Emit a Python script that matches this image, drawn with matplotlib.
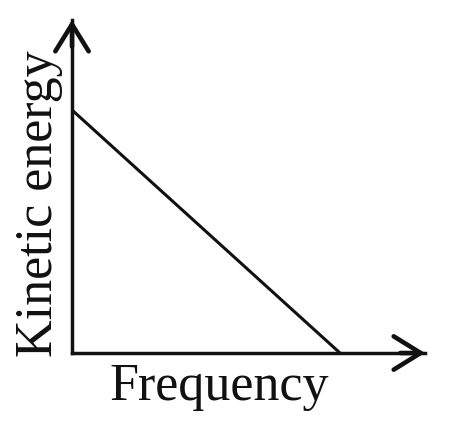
import matplotlib
matplotlib.use("Agg")
import matplotlib.pyplot as plt

# Data (arbitrary units)
frequency = [0.0, 1.0]
kinetic_energy = [1.0, 0.0]
x_label = "Frequency"
y_label = "Kinetic energy"

W, H = 474, 441
fig = plt.figure(figsize=(W / 100, H / 100), dpi=100)
fig.patch.set_facecolor("white")

x0, x1 = 72, 425
y0, y1 = 353, 20
ax = fig.add_axes([x0 / W, (H - y0) / H, (x1 - x0) / W, (y0 - y1) / H])
ax.set_facecolor("none")
ax.set_xlim(0, 1.0 / ((340 - x0) / (x1 - x0)))
ax.set_ylim(0, 1.0 / ((y0 - 110) / (y0 - y1)))
for s in ax.spines.values():
    s.set_visible(False)
ax.set_xticks([])
ax.set_yticks([])

ink = "#111111"
ax.plot(frequency, kinetic_energy, color=ink, lw=2.2, solid_capstyle="butt", clip_on=False)

# axis shafts
ax.plot([0, 1], [0, 0], transform=ax.transAxes, color=ink, lw=2.5, clip_on=False,
        solid_capstyle="projecting")
ax.plot([0, 0], [0, 1], transform=ax.transAxes, color=ink, lw=2.5, clip_on=False,
        solid_capstyle="projecting")

# arrowheads (bolder)
arrow_kw = dict(arrowstyle="->,head_length=0.97,head_width=0.6", color=ink, lw=3.3,
                mutation_scale=20, shrinkA=0, shrinkB=0, joinstyle="miter")
ax.annotate("", xy=(1, 0), xytext=(0.93, 0), xycoords="axes fraction",
            arrowprops=arrow_kw)
ax.annotate("", xy=(0, 1), xytext=(0, 0.92), xycoords="axes fraction",
            arrowprops=arrow_kw)

font = dict(family=["Liberation Serif", "DejaVu Serif"], fontsize=37.5, color=ink)
fig.text(219 / W, (H - 400) / H, x_label, ha="center", va="baseline", **font)
fig.text(52 / W, (H - 203.5) / H, y_label, ha="center", va="baseline",
         rotation=90, rotation_mode="anchor", **font)

fig.savefig("out.png", dpi=100, facecolor="white")
